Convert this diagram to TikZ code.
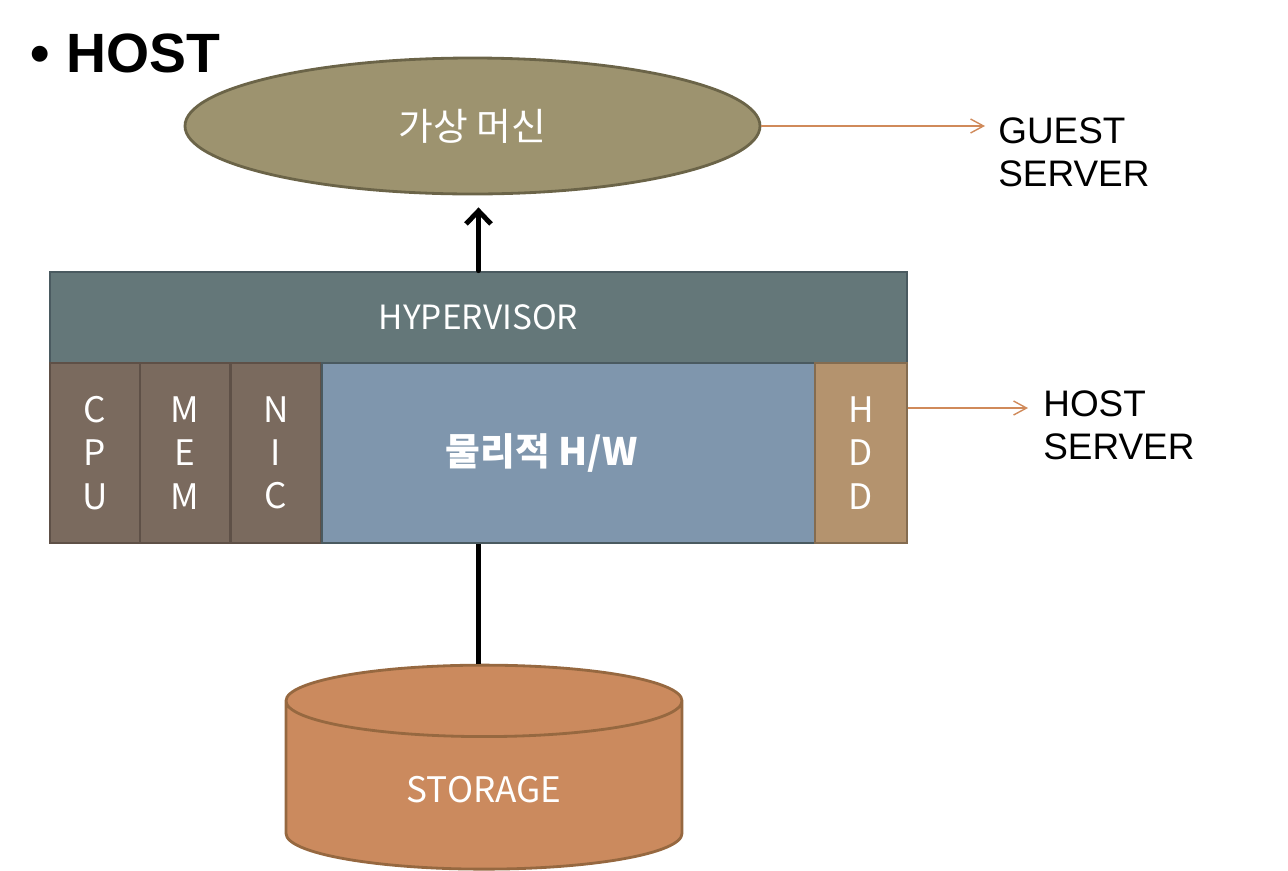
\documentclass[tikz,border=0pt]{standalone}
\usepackage{fontspec}
\setmainfont{Liberation Sans}
\newfontfamily\krfont{Noto Sans CJK KR}
\usetikzlibrary{shapes}
\usetikzlibrary{positioning}
\usetikzlibrary{arrows.meta}
\definecolor{vmfill}{RGB}{157,147,111}
\definecolor{vmline}{RGB}{107,100,72}
\definecolor{hypfill}{RGB}{100,119,121}
\definecolor{hypline}{RGB}{74,90,96}
\definecolor{partfill}{RGB}{122,106,94}
\definecolor{partline}{RGB}{94,80,71}
\definecolor{hwfill}{RGB}{127,150,173}
\definecolor{hddfill}{RGB}{180,147,110}
\definecolor{hddline}{RGB}{132,108,80}
\definecolor{storfill}{RGB}{203,138,94}
\definecolor{storline}{RGB}{150,104,64}
\definecolor{linko}{RGB}{208,138,90}
\tikzset{
    vmnode/.style = {ellipse, line width=1.6pt, draw=vmline, fill=vmfill, minimum width=11.5cm, minimum height=2.72cm, text=white, font=\krfont\fontsize{21.5}{25}\selectfont},
    hypnode/.style = {rectangle, line width=1.6pt, draw=hypline, fill=hypfill, minimum width=17.14cm, minimum height=1.82cm, text=white, font=\krfont\fontsize{19}{23}\selectfont},
    partnode/.style = {rectangle, line width=1.6pt, draw=partline, fill=partfill, minimum width=1.8cm, minimum height=3.6cm, text=white, align=center, font=\krfont\fontsize{20}{24.6}\selectfont},
    hwnode/.style = {rectangle, line width=1.6pt, draw=hypline, fill=hwfill, minimum width=9.86cm, minimum height=3.6cm},
    hwtext/.style = {text=white, font=\krfont\bfseries\fontsize{21.5}{25}\selectfont},
    hddnode/.style = {partnode, draw=hddline, fill=hddfill, minimum width=1.84cm},
    stornode/.style = {cylinder, shape border rotate=90, aspect=0.43, line width=1.6pt, draw=storline, fill=storfill, minimum width=7.92cm, minimum height=4.08cm, text=white, font=\krfont\fontsize{20}{24}\selectfont},
    lbl/.style = {align=left, inner sep=0pt, font=\fontsize{21}{24.5}\selectfont},
    titletext/.style = {inner sep=0pt, font=\bfseries\fontsize{31.5}{35}\selectfont},
    edgen/.style = {-{Straight Barb[length=2.6mm,width=5mm]}, line width=2.8pt, line cap=round},
    edgel/.style = {line width=2.8pt},
    edgeo/.style = {-{Straight Barb[length=2.6mm,width=2.8mm]}, line width=0.8pt, linko}
}
\begin{document}
\begin{tikzpicture}
\useasboundingbox (0,0) rectangle (25.76,-17.4);
%
\node[titletext, anchor=base west] at (0.6,-1.44) (title) {•\hspace{0.3em}HOST};
\node[vmnode] at (9.45,-2.52) (vm) {가상 머신};
\node[lbl, anchor=west] at (19.96,-3.05) (guest) {GUEST\\SERVER};
%
\node[hypnode] at (9.57,-6.35) (hyper) {HYPERVISOR};
\node[partnode] at (1.9,-9.06) (cpu) {C\\P\\U};
\node[partnode] at (3.7,-9.06) (mem) {M\\E\\M};
\node[partnode] at (5.52,-9.06) (nic) {N\\I\\C};
\node[hwnode, label={[hwtext, xshift=-0.54cm]center:물리적 H/W}] at (11.37,-9.06) (hw) {};
\node[hddnode] at (17.22,-9.06) (hdd) {H\\D\\D};
\node[lbl, anchor=west] at (20.86,-8.5) (host) {HOST\\SERVER};
%
\node[stornode] at (9.68,-15.8) (stor) {STORAGE};
%
\draw[edgen] (hyper.north) -- ([yshift=-0.24cm]hyper.north |- vm.south);
\draw[edgel] (hyper.north |- stor.north) -- (hyper.north |- hw.south);
\draw[edgeo] (vm.east) -- ([xshift=-0.26cm]vm.east -| guest.west);
\draw[edgeo] ([yshift=0.9cm]hdd.east) -- ([xshift=-0.3cm,yshift=0.9cm]hdd.east -| host.west);

\end{tikzpicture}
\end{document}
